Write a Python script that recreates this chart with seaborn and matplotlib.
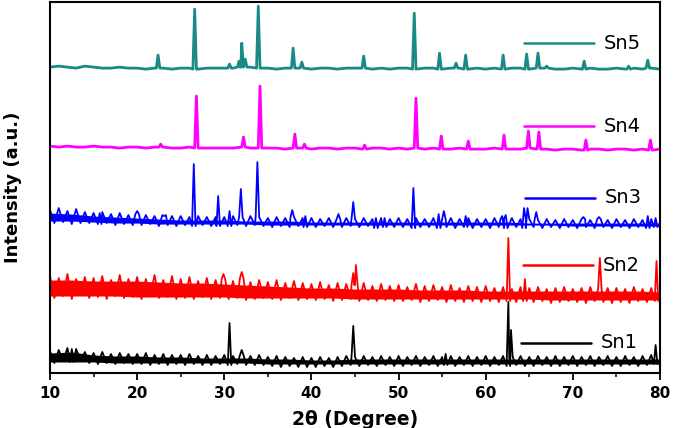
"""XRD patterns of Sn1-Sn5, stacked with vertical offsets."""

import matplotlib

matplotlib.use("Agg")
import matplotlib.pyplot as plt
import numpy as np
import pandas as pd
import seaborn as sns

sns.set_style("ticks")
plt.rcParams["font.family"] = ["DejaVu Sans"]
plt.rcParams.update({
    "text.color": "black",
    "axes.labelcolor": "black",
    "axes.edgecolor": "black",
    "xtick.color": "black",
    "ytick.color": "black",
})

# --- data (intensity in arbitrary units, already offset) ---
grid_coarse = np.arange(10, 80.01, 1.0)
grid_fine = np.arange(10, 80.01, 0.5)
grid_band = np.arange(10, 80.01, 2.5)

sn5_base = [
    306, 307, 306, 305, 307, 306, 305, 305, 306, 305,
    305, 304, 305, 305, 304, 305, 305, 304, 305, 305,
    305, 305, 306, 306, 305, 305, 304, 305, 305, 305,
    304, 305, 305, 304, 305, 305, 305, 304, 305, 304,
    305, 305, 304, 305, 305, 304, 305, 305, 304, 305,
    304, 305, 304, 305, 305, 304, 305, 305, 304, 304,
    305, 304, 305, 304, 304, 305, 304, 305, 304, 305, 304,
]
sn5_peak_pos = [22.4, 26.6, 30.6, 31.7, 32.0, 32.4, 33.9, 37.9, 38.9, 46.0,
                51.8, 54.7, 56.6, 57.7, 62.0, 64.7, 66.0, 67.0, 71.3, 76.4, 78.6]
sn5_peak_top = [318, 364, 309, 312, 330, 314, 367, 325, 311, 317,
                360, 320, 310, 318, 318, 319, 320, 307, 312, 307, 313]

sn4_base = [
    227, 226, 227, 226, 226, 227, 226, 226, 225, 226,
    226, 225, 226, 226, 225, 225, 226, 225, 225, 225,
    225, 225, 226, 225, 225, 225, 225, 224, 225, 225,
    224, 225, 225, 224, 225, 225, 224, 225, 225, 224,
    225, 224, 225, 224, 225, 224, 224, 225, 224, 224,
    224, 225, 224, 224, 224, 225, 224, 224, 223, 224,
    224, 223, 224, 224, 223, 224, 224, 223, 224, 223, 224,
]
sn4_peak_pos = [22.7, 26.8, 32.2, 34.1, 38.1, 39.2, 46.1, 52.0, 54.9, 58.0,
                62.1, 64.9, 66.1, 71.5, 78.9]
sn4_peak_top = [229, 277, 236, 287, 239, 229, 228, 275, 237, 232,
                238, 242, 241, 233, 233]

sn3_base = [
    163, 150, 165, 151, 162, 149, 164, 150, 161, 150,
    160, 149, 161, 150, 159, 148, 160, 149, 158, 148,
    159, 148, 158, 149, 157, 147, 158, 148, 157, 147,
    157, 148, 156, 147, 157, 148, 156, 147, 156, 147,
    156, 147, 157, 148, 156, 147, 157, 148, 156, 147,
    155, 146, 156, 147, 155, 146, 156, 147, 155, 146,
    155, 146, 154, 147, 155, 146, 154, 146, 155, 147,
    154, 146, 155, 147, 154, 145, 155, 146, 154, 146,
    155, 146, 154, 145, 155, 146, 154, 146, 155, 145,
    154, 146, 155, 145, 154, 146, 155, 145, 154, 146,
    154, 145, 155, 146, 154, 145, 155, 146, 154, 145,
    154, 146, 153, 145, 154, 146, 153, 145, 154, 146,
    153, 145, 154, 146, 153, 145, 154, 146, 153, 145,
    154, 146, 153, 145, 154, 146, 153, 145, 154, 146,
    150,
]
sn3_band_lo = [152, 152, 151, 150, 150, 149, 149, 149, 149, 149, 148, 148, 148, 148, 148,
               148, 148, 148, 148, 148, 148, 148, 148, 148, 147, 147, 147, 147, 147]
sn3_band_hi = [160, 159, 157, 156, 155, 154, 153, 153, 153, 152, 152, 152, 151, 151, 151,
               151, 151, 151, 151, 151, 151, 151, 150, 150, 150, 150, 150, 150, 150]
sn3_peak_pos = [15.7, 20.0, 23.1, 26.5, 29.3, 30.6, 31.9, 33.8, 37.8, 39.3,
                43.1, 44.8, 47.4, 48.4, 51.7, 54.6, 55.2, 57.7, 61.9, 62.3,
                64.4, 64.8, 65.8, 71.2, 73.0, 78.6, 79.5]
sn3_peak_top = [160, 162, 157, 209, 177, 162, 184, 211, 163, 157,
                159, 171, 155, 155, 185, 159, 162, 157, 157, 158,
                165, 165, 161, 156, 156, 157, 155]

sn2_base = [
    97, 75, 95, 77, 99, 74, 94, 78, 96, 75,
    95, 76, 97, 74, 93, 77, 98, 75, 94, 76,
    96, 74, 94, 77, 98, 75, 93, 76, 97, 74,
    94, 75, 96, 74, 92, 76, 95, 74, 93, 75,
    94, 74, 92, 75, 95, 73, 91, 74, 93, 75,
    91, 74, 93, 73, 90, 75, 92, 73, 90, 74,
    89, 73, 91, 74, 88, 72, 90, 73, 89, 74,
    88, 72, 90, 73, 87, 72, 89, 73, 87, 72,
    88, 72, 86, 73, 89, 71, 87, 72, 88, 73,
    86, 71, 88, 72, 85, 71, 87, 72, 86, 71,
    87, 72, 85, 71, 86, 72, 84, 71, 86, 72,
    85, 71, 86, 72, 84, 70, 85, 71, 86, 72,
    84, 71, 85, 70, 86, 72, 84, 71, 85, 70,
    85, 71, 84, 70, 86, 72, 84, 71, 85, 72,
    80,
]
sn2_band_lo = [77, 77, 77, 77, 76, 76, 76, 76, 76, 75, 75, 75, 75, 75, 74,
               74, 74, 74, 74, 74, 74, 74, 74, 73, 73, 73, 73, 73, 73]
sn2_band_hi = [93, 93, 92, 92, 92, 91, 90, 90, 89, 88, 87, 86, 85, 85, 84,
               84, 84, 83, 83, 83, 82, 82, 82, 82, 82, 82, 82, 82, 81]
sn2_peak_pos = [29.9, 32.0, 44.8, 45.1, 62.6, 64.5, 73.1, 79.6]
sn2_peak_top = [99, 101, 100, 108, 135, 94, 115, 112]

sn1_base = [
    22, 10, 23, 12, 25, 11, 24, 12, 21, 10,
    20, 9, 21, 10, 19, 9, 20, 10, 19, 9,
    19, 9, 20, 8, 18, 9, 19, 8, 18, 9,
    18, 8, 19, 9, 17, 8, 18, 8, 17, 9,
    18, 8, 17, 9, 18, 8, 17, 8, 18, 8,
    16, 7, 17, 6, 16, 7, 15, 6, 16, 6,
    15, 6, 16, 7, 15, 6, 16, 7, 17, 8,
    16, 7, 17, 8, 16, 7, 17, 8, 16, 7,
    17, 7, 16, 8, 17, 7, 16, 8, 17, 7,
    16, 8, 17, 7, 16, 8, 17, 7, 16, 8,
    17, 7, 16, 8, 17, 7, 16, 8, 17, 7,
    16, 7, 17, 8, 16, 7, 17, 7, 16, 8,
    17, 7, 16, 8, 17, 7, 16, 8, 17, 7,
    16, 7, 17, 8, 16, 7, 17, 8, 18, 9,
    12,
]
sn1_band_lo = [11, 11, 11, 10, 10, 10, 10, 10, 10, 10, 9, 9, 9, 9, 9,
               9, 9, 9, 9, 9, 9, 9, 9, 9, 9, 9, 9, 9, 9]
sn1_band_hi = [20, 21, 18, 17, 17, 16, 16, 15, 15, 15, 14, 14, 13, 13, 14,
               14, 14, 14, 14, 14, 14, 14, 14, 14, 14, 14, 14, 14, 14]
sn1_peak_pos = [12.5, 30.6, 32.0, 44.8, 55.4, 62.6, 62.9, 79.5]
sn1_peak_top = [24, 50, 23, 47, 19, 71, 43, 28]

samples = ["Sn5", "Sn4", "Sn3", "Sn2", "Sn1"]
colors = ["#1a8a86", "#ff00ff", "#0000ff", "#ff0000", "#000000"]
line_widths = [2.0, 2.0, 1.3, 1.3, 1.3]
label_y = [0.889, 0.666, 0.472, 0.291, 0.081]
label_x0 = [0.777, 0.777, 0.779, 0.775, 0.772]


def build_trace(grid, base, peak_pos, peak_top, hw=0.2):
    """Merge baseline samples with narrow peaks (foot, top, foot)."""
    grid = np.asarray(grid)
    base = np.asarray(base)
    keep = np.array([all(abs(g - p) > hw for p in peak_pos) for g in grid])
    xs = list(grid[keep])
    ys = list(base[keep])
    for p, t in zip(peak_pos, peak_top):
        foot = base[np.abs(grid - p).argmin()]
        xs += [p - hw, p, p + hw]
        ys += [foot, t, foot]
    order = np.argsort(xs, kind="stable")
    return np.asarray(xs)[order], np.asarray(ys)[order]


traces = [
    (grid_coarse, sn5_base, sn5_peak_pos, sn5_peak_top),
    (grid_coarse, sn4_base, sn4_peak_pos, sn4_peak_top),
    (grid_fine, sn3_base, sn3_peak_pos, sn3_peak_top),
    (grid_fine, sn2_base, sn2_peak_pos, sn2_peak_top),
    (grid_fine, sn1_base, sn1_peak_pos, sn1_peak_top),
]
# dense noise band of the noisier patterns
bands = {
    "Sn3": (sn3_band_lo, sn3_band_hi),
    "Sn2": (sn2_band_lo, sn2_band_hi),
    "Sn1": (sn1_band_lo, sn1_band_hi),
}

frames = []
for name, (g, b, pp, pt) in zip(samples, traces):
    x, y = build_trace(g, b, pp, pt)
    frames.append(pd.DataFrame({"two_theta": x, "intensity": y, "sample": name}))
df = pd.concat(frames, ignore_index=True)

fig = plt.figure(figsize=(6.74, 4.28), dpi=100)
ax = fig.add_axes([0.0742, 0.1285, 0.905, 0.8665])

pal = dict(zip(samples, colors))
for name, lw in zip(samples, line_widths):
    if name in bands:
        lo, hi = bands[name]
        ax.fill_between(grid_band, lo, hi, color=pal[name], lw=0)
    sns.lineplot(
        data=df[df["sample"] == name], x="two_theta", y="intensity",
        color=pal[name], estimator=None, sort=True, linewidth=lw,
        legend=False, ax=ax,
    )

# in-plot labels (line + name), as in the original figure
for name, col, yy, x0 in zip(samples, colors, label_y, label_x0):
    ax.plot([x0, x0 + 0.115], [yy, yy], color=col, lw=1.8, transform=ax.transAxes)
    ax.text(x0 + 0.131, yy, name, transform=ax.transAxes, va="center", ha="left",
            fontsize=14, color="black")

ax.set_xlim(10, 80)
ax.set_ylim(0, 371)
ax.set_xticks(np.arange(10, 81, 10))
ax.set_xticks(np.arange(15, 80, 10), minor=True)
ax.set_yticks([])
ax.tick_params(axis="x", which="major", direction="out", length=5, width=1.3,
               labelsize=11, pad=4)
ax.tick_params(axis="x", which="minor", direction="out", length=3, width=1.1)
for lbl in ax.get_xticklabels():
    lbl.set_fontweight("bold")
for sp in ax.spines.values():
    sp.set_visible(True)
    sp.set_linewidth(1.5)
    sp.set_edgecolor("black")

ax.set_xlabel("2θ (Degree)", fontsize=13.5, fontweight="bold", labelpad=7)
ax.set_ylabel("Intensity (a.u.)", fontsize=13, fontweight="bold")
ax.yaxis.set_label_coords(-0.046, 0.5)

fig.savefig("out.png", dpi=100)
